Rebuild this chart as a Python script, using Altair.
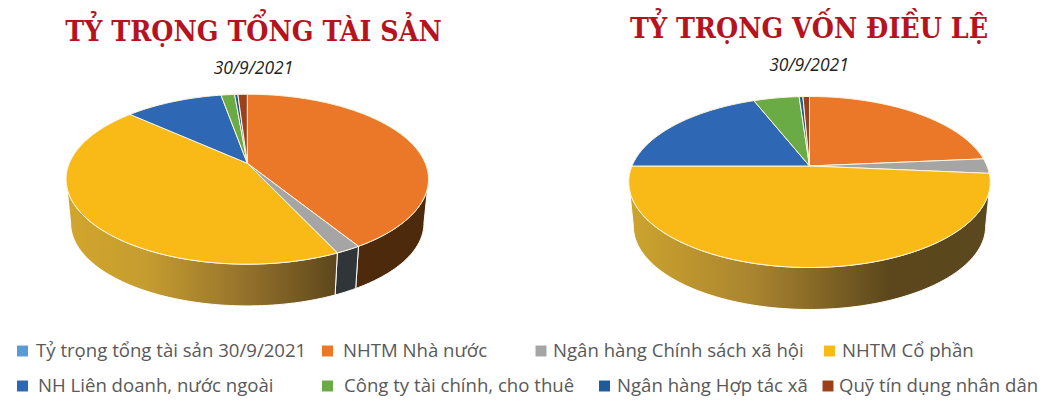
import math
import altair as alt
import pandas as pd

CATEGORIES = ["Tỷ trọng tổng tài sản 30/9/2021", "NHTM Nhà nước", "Ngân hàng Chính sách xã hội", "NHTM Cổ phần",
              "NH Liên doanh, nước ngoài", "Công ty tài chính, cho thuê", "Ngân hàng Hợp tác xã", "Quỹ tín dụng nhân dân"]
COLORS = ["#5b9bd5", "#ea7828", "#a5a5a5", "#f9b916", "#2e68b4", "#6aab45", "#1f5a99", "#9e3f1b"]
ASSETS = [0, 41.2, 1.9, 43.6, 10.5, 1.45, 0.35, 1.0]
CAPITAL = [0, 23.6, 2.8, 48.6, 19.0, 4.9, 0.4, 0.7]
TITLES = ["TỶ TRỌNG TỔNG TÀI SẢN", "TỶ TRỌNG VỐN ĐIỀU LỆ"]
SUBTITLE = "30/9/2021"

K = 0.187
DEPTH = 0.54
SHRINK = 0.975
PW, PH, TOP = 521, 245, 82
TITLE_FONT = "DejaVu Serif Condensed"
BODY_FONT = "Open Sans"


def project(theta, wall=False):
    u, v = math.sin(theta), math.cos(theta)
    w = 1 + K * v
    x, y = u / w, v / w
    return (x * SHRINK, y * SHRINK - DEPTH) if wall else (x, y)


def arc_angles(a0, a1):
    n = max(2, int((a1 - a0) / math.radians(1)) + 1)
    return [a0 + (a1 - a0) * i / (n - 1) for i in range(n)]


def wedges(values):
    rows, walls = [], []
    total = sum(values)
    limit = math.acos(-K)
    start = 0.0
    for cat, val in zip(CATEGORIES, values):
        if val <= 0:
            continue
        end = start + val / total * 2 * math.pi
        pts = [(0.0, 0.0)] + [project(t) for t in arc_angles(start, end)] + [(0.0, 0.0)]
        rows += [{"cat": cat, "i": i, "x": p[0], "y": p[1]} for i, p in enumerate(pts)]
        a0, a1 = max(start, limit), min(end, 2 * math.pi - limit)
        if a1 > a0:
            ts = arc_angles(a0, a1)
            ring = [project(t) for t in ts] + [project(t, True) for t in reversed(ts)]
            ring.append(ring[0])
            walls.append((cat, pd.DataFrame([{"i": i, "x": p[0], "y": p[1]} for i, p in enumerate(ring)])))
        start = end
    return pd.DataFrame(rows), walls


def yellow_wall(stops):
    return alt.Gradient(gradient="linear", x1=0, x2=1, y1=0, y2=0,
                        stops=[alt.GradientStop(offset=o, color=c) for o, c in stops])


def panel(values, title, subtitle, apex_x, apex_y, r, s, wall_stops, off):
    top, walls = wedges(values)
    xs = alt.Scale(domain=[-apex_x / r, (PW - apex_x) / r], range=[0, PW], nice=False, zero=False)
    ys = alt.Scale(domain=[-(PH - apex_y) / s, apex_y / s], range=[PH, 0], nice=False, zero=False)
    x = alt.X("x:Q", scale=xs, axis=None)
    y = alt.Y("y:Q", scale=ys, axis=None)
    wall_fill = {"NHTM Nhà nước": "#4d2a0b", "Ngân hàng Chính sách xã hội": "#2f3538", "NHTM Cổ phần": yellow_wall(wall_stops)}
    layers = []
    for cat, df in walls:
        layers.append(alt.Chart(df).mark_line(fill=wall_fill.get(cat, "#444444"), stroke="#ffffff", strokeWidth=1)
                      .encode(x=x, y=y, order="i:Q"))
    layers.append(alt.Chart(top).mark_line(stroke="#fff6df", strokeWidth=1).encode(
        x=x, y=y, order="i:Q",
        fill=alt.Fill("cat:N", scale=alt.Scale(domain=CATEGORIES, range=COLORS), legend=None),
        detail="cat:N"))
    return alt.layer(*layers).properties(
        width=PW, height=PH,
        title=alt.TitleParams(text=title, subtitle=subtitle, anchor="middle", frame="group", dx=off[0], dy=off[1],
                              font=TITLE_FONT, fontSize=28.3, fontWeight="bold", color="#b5141f",
                              subtitleFont=BODY_FONT, subtitleFontSize=17.5, subtitleFontStyle="italic",
                              subtitleColor="#222222", subtitlePadding=12))


left = panel(ASSETS, TITLES[0], SUBTITLE, 239.3, 163.3 - TOP, 178, 82, [(0, "#d2a62c"), (0.3, "#c59c30"), (0.7, "#8f6d2a"), (1, "#5c471b")], (-15, 0))
right = panel(CAPITAL, TITLES[1], SUBTITLE, 280.5, 166 - TOP, 177.5, 82.5, [(0, "#cda42e"), (0.35, "#a9842f"), (0.72, "#5c471c"), (1, "#5b481e")], (19.5, -3))

# hand-set legend: reference rows are not aligned column by column
SWATCH_X = [14.5, 319.5, 533, 821.5, 14.5, 319.5, 596.5, 820]
LABEL_X = [28, 335, 545, 834, 30, 336, 609, 831]
ROW_Y = [24, 24, 24, 24, 59, 59, 59, 59]
legend_layers = []
for cat, col, sx, lx, ry in zip(CATEGORIES, COLORS, SWATCH_X, LABEL_X, ROW_Y):
    entry = alt.Chart(pd.DataFrame({"cat": [cat]}))
    legend_layers.append(entry.mark_square(size=120, opacity=1, color=col).encode(x=alt.value(sx), y=alt.value(ry)))
    legend_layers.append(entry.mark_text(align="left", baseline="middle", font=BODY_FONT, fontSize=18.6, color="#595959")
                         .encode(x=alt.value(lx), y=alt.value(ry), text="cat:N"))
legend_panel = alt.layer(*legend_layers).properties(width=1043, height=70)

chart = alt.vconcat(alt.hconcat(left, right, spacing=0), legend_panel, spacing=0).properties(
    padding={"left": 0, "top": 7, "right": 0, "bottom": 0}).configure_view(stroke=None)
chart.save("out.html", embed_options={"renderer": "svg", "actions": False})
